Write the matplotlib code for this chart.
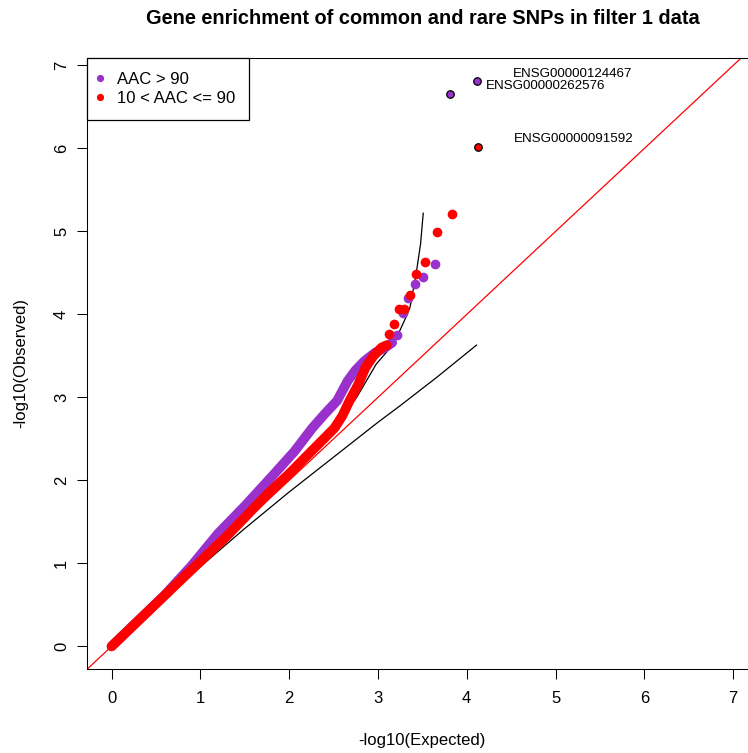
import matplotlib.pyplot as plt
from matplotlib.lines import Line2D

plt.rcParams['font.family'] = ['Liberation Sans', 'DejaVu Sans']

title = 'Gene enrichment of common and rare SNPs in filter 1 data'
legend_labels = ['AAC > 90', '10 < AAC <= 90']
purple = '#9932CC'
red = '#FF0000'

# dense part of the qq curves, -log10 expected vs observed
purple_band_x = [0.0, 0.6, 0.9, 1.2, 1.5, 1.8, 2.06, 2.26, 2.40, 2.54, 2.66, 2.75, 2.85, 2.97, 3.08, 3.16]
purple_band_y = [0.0, 0.62, 0.97, 1.36, 1.69, 2.04, 2.35, 2.63, 2.80, 2.96, 3.20, 3.33, 3.44, 3.54, 3.60, 3.66]
red_band_x = [0.0, 0.8, 1.3, 1.75, 2.0, 2.25, 2.51, 2.60, 2.68, 2.78, 2.86, 2.95, 3.04, 3.10]
red_band_y = [0.0, 0.82, 1.33, 1.83, 2.08, 2.35, 2.63, 2.78, 2.96, 3.16, 3.36, 3.50, 3.60, 3.63]

# sparse tail points
purple_tail_x = [3.21, 3.28, 3.34, 3.42, 3.51, 3.64]
purple_tail_y = [3.75, 4.02, 4.20, 4.37, 4.45, 4.61]
red_tail_x = [3.13, 3.18, 3.235, 3.29, 3.36, 3.43, 3.53, 3.66, 3.83]
red_tail_y = [3.77, 3.89, 4.06, 4.07, 4.23, 4.49, 4.63, 4.99, 5.21]

# labelled top genes
gene_names = ['ENSG00000124467', 'ENSG00000262576', 'ENSG00000091592']
gene_x = [4.11, 3.81, 4.13]
gene_y = [6.81, 6.66, 6.02]
gene_group = ['purple', 'purple', 'red']
gene_label_x = [4.52, 4.21, 4.53]
gene_label_y = [6.90, 6.75, 6.11]

# confidence curves
upper_ci_x = [0.0, 1.0, 1.5, 2.0, 2.3, 2.5, 2.61, 2.68, 2.76, 2.87, 2.98, 3.1, 3.21, 3.30, 3.36, 3.43, 3.48, 3.51]
upper_ci_y = [0.0, 1.05, 1.58, 2.1, 2.4, 2.6, 2.76, 2.88, 3.0, 3.2, 3.40, 3.55, 3.72, 3.93, 4.08, 4.49, 4.85, 5.22]
lower_ci_x = [0.0, 0.5, 1.0, 1.5, 2.0, 2.5, 3.0, 3.25, 3.66, 4.11]
lower_ci_y = [0.0, 0.49, 0.96, 1.42, 1.86, 2.28, 2.70, 2.90, 3.24, 3.63]

fig = plt.figure(figsize=(7.48, 7.53), dpi=100)
ax = fig.add_axes([86.7 / 748, (753 - 669) / 753, (758 - 86.7) / 748, (669 - 58) / 753])
ax.set_xlim(-0.28, 7.28)
ax.set_ylim(-0.273, 7.09)

# reference lines under the points
ax.plot(upper_ci_x, upper_ci_y, color='black', lw=0.9, zorder=1)
ax.plot(lower_ci_x, lower_ci_y, color='black', lw=0.9, zorder=1)
ax.plot([-1, 8], [-1, 8], color=red, lw=0.9, zorder=1)

ms = 7.0
ax.plot(purple_band_x, purple_band_y, color=purple, lw=ms, solid_capstyle='round',
        solid_joinstyle='round', zorder=2)
ax.plot(purple_tail_x, purple_tail_y, 'o', color=purple, ms=ms, mew=0, zorder=2)
ax.plot(red_band_x, red_band_y, color=red, lw=ms, solid_capstyle='round',
        solid_joinstyle='round', zorder=3)
ax.plot(red_tail_x, red_tail_y, 'o', color=red, ms=ms, mew=0, zorder=3)

for gx, gy, g in zip(gene_x, gene_y, gene_group):
    ax.plot(gx, gy, 'o', color=purple if g == 'purple' else red, ms=5.4,
            mec='black', mew=0.9, zorder=4)
for name, lx, ly in zip(gene_names, gene_label_x, gene_label_y):
    ax.text(lx, ly, name, fontsize=9.6, ha='left', va='center')

ax.set_xticks(range(8))
ax.set_yticks(range(8))
ax.tick_params(axis='both', length=7.2, width=0.75, labelsize=12, direction='out')
ax.tick_params(axis='x', pad=8.6)
ax.tick_params(axis='y', pad=5.5)
for lab in ax.get_yticklabels():
    lab.set_rotation(90)
    lab.set_va('center')
for sp in ax.spines.values():
    sp.set_linewidth(0.75)

ax.set_xlabel('-log10(Expected)', fontsize=12)
ax.xaxis.label.set_va('center')
ax.xaxis.set_label_coords(0.5, -(740 - 669) / 611)
ax.set_ylabel('-log10(Observed)', fontsize=12)
ax.yaxis.label.set_va('center')
ax.yaxis.set_label_coords(-(86.7 - 21) / 671.3, 0.5)

fig.text(422.4 / 748, 1 - 18 / 753, title, ha='center', va='center',
         fontsize=14.4, fontweight='bold')

handles = [Line2D([], [], ls='', marker='o', color=c, ms=5.2, mew=0) for c in (purple, red)]
leg = ax.legend(handles, legend_labels, loc='upper left', bbox_to_anchor=(0, 1),
                borderaxespad=0, fontsize=12, frameon=True, fancybox=False,
                edgecolor='black', framealpha=1, handlelength=0,
                handletextpad=1.0, borderpad=0.82, labelspacing=0.28)
leg.get_frame().set_linewidth(0.9)
leg.set_zorder(10)

plt.savefig('out.png', dpi=100)
